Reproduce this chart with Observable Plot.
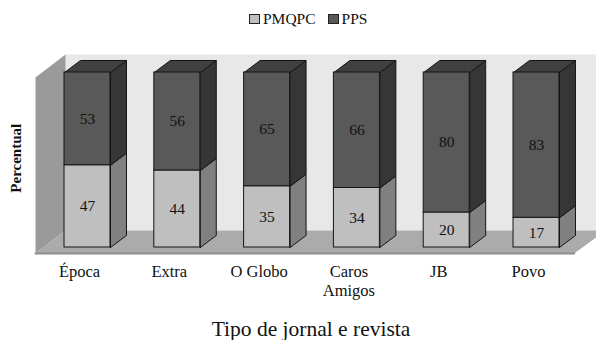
<!DOCTYPE html>
<html lang="pt">
<head>
<meta charset="utf-8">
<script src="https://cdn.jsdelivr.net/npm/d3@7"></script>
<script src="https://cdn.jsdelivr.net/npm/@observablehq/plot@0.6"></script>
<style>
  html, body { margin: 0; padding: 0; background: #fff; }
  body { width: 596px; height: 340px; font-family: "Liberation Serif", serif; color: #111; overflow: hidden; }
  #legend { height: 40px; box-sizing: border-box; padding: 10px 0 0 249px; display: flex; align-items: flex-start; font-size: 15.5px; line-height: 17px; }
  #legend span.item { display: flex; align-items: center; }
  #legend i { display: inline-block; width: 9px; height: 8px; border: 1px solid #222; margin-right: 3px; }
  #title { height: 30px; width: 596px; padding: 9px 0 0 26px; box-sizing: border-box; text-align: center; font-size: 21.5px; line-height: 20px; }
  svg { display: block; }
</style>
</head>
<body>
<div id="legend"></div>
<div id="chart"></div>
<div id="title"></div>
<script>
// Share of each publication by group, in percent
const categories = ["Época", "Extra", "O Globo", "Caros\nAmigos", "JB", "Povo"];
const pmqpc = [47, 44, 35, 34, 20, 17];
const pps = [53, 56, 65, 66, 80, 83];

const colors = {
  lowerFront: "#bfbfbf", lowerSide: "#808080",
  upperFront: "#595959", upperSide: "#363636", top: "#404040",
  wall: "#e8e8e8", sideWall: "#9a9a9a", floor: "#ababab", floorEdge: "#8e8e8e",
  edge: "#151515"
};

// Oblique projection: bars are 0.51 categories wide, and receding by one
// depth unit moves a point right by dx and up by dy
const halfBar = 0.256;
const dx = 0.178;
const dy = 6.86;

const rows = categories.map((name, i) => ({i, name, lo: pmqpc[i], hi: pps[i]}));

// Closed outline for one bar's side face between two stacked values
const side = (r, from, to, id) => [
  {id, x: r.i + halfBar, y: from},
  {id, x: r.i + halfBar + dx, y: from + dy},
  {id, x: r.i + halfBar + dx, y: to + dy},
  {id, x: r.i + halfBar, y: to},
  {id, x: r.i + halfBar, y: from}
];
const topFace = (r) => [
  {id: r.i, x: r.i - halfBar, y: 100},
  {id: r.i, x: r.i + halfBar, y: 100},
  {id: r.i, x: r.i + halfBar + dx, y: 100 + dy},
  {id: r.i, x: r.i - halfBar + dx, y: 100 + dy},
  {id: r.i, x: r.i - halfBar, y: 100}
];

// Chart box: back wall, left wall and floor
const box = {left: -0.579, back: -0.245, frontRight: 5.42, right: 5.67, floorFront: -3.43, floorBack: 9.71, top: 110.3};
const boxDepthY = box.floorBack - box.floorFront;
const backWall = [
  {x: box.back, y: box.floorBack}, {x: box.right, y: box.floorBack},
  {x: box.right, y: box.top}, {x: box.back, y: box.top}
];
const sideWall = [
  {x: box.left, y: box.floorFront}, {x: box.back, y: box.floorBack},
  {x: box.back, y: box.top}, {x: box.left, y: box.top - boxDepthY},
  {x: box.left, y: box.floorFront}
];
const floor = [
  {x: box.left, y: box.floorFront}, {x: box.back, y: box.floorBack},
  {x: box.right, y: box.floorBack}, {x: box.right, y: box.floorBack - 3.7},
  {x: box.frontRight, y: box.floorFront}, {x: box.left, y: box.floorFront}
];
const floorEdge = [
  {x: box.left, y: box.floorFront}, {x: box.frontRight, y: box.floorFront}
];

const svg = Plot.plot({
  width: 596,
  height: 270,
  marginLeft: 87,
  marginRight: 60,
  marginTop: 32,
  marginBottom: 63,
  style: {fontFamily: "Liberation Serif", background: "transparent", color: "#111"},
  x: {type: "linear", domain: [0, 5], axis: null},
  y: {domain: [0, 100], axis: null},
  marks: [
    Plot.line(backWall.concat(backWall[0]), {x: "x", y: "y", fill: colors.wall, stroke: "none"}),
    Plot.line(sideWall, {x: "x", y: "y", fill: colors.sideWall, stroke: "none"}),
    Plot.line(floor, {x: "x", y: "y", fill: colors.floor, stroke: "none"}),
    Plot.line(floorEdge, {x: "x", y: "y", stroke: colors.floorEdge, strokeWidth: 2}),

    Plot.line(rows.flatMap((r) => side(r, 0, r.lo, r.i)), {x: "x", y: "y", z: "id", fill: colors.lowerSide, stroke: colors.edge, strokeWidth: 1}),
    Plot.line(rows.flatMap((r) => side(r, r.lo, 100, r.i)), {x: "x", y: "y", z: "id", fill: colors.upperSide, stroke: colors.edge, strokeWidth: 1}),
    Plot.line(rows.flatMap(topFace), {x: "x", y: "y", z: "id", fill: colors.top, stroke: colors.edge, strokeWidth: 1}),
    Plot.rect(rows, {x1: (d) => d.i - halfBar, x2: (d) => d.i + halfBar, y1: 0, y2: "lo", fill: colors.lowerFront, stroke: colors.edge, strokeWidth: 1}),
    Plot.rect(rows, {x1: (d) => d.i - halfBar, x2: (d) => d.i + halfBar, y1: "lo", y2: 100, fill: colors.upperFront, stroke: colors.edge, strokeWidth: 1}),

    Plot.text(rows, {x: "i", y: (d) => d.lo / 2, text: (d) => String(d.lo), fontSize: 15.5, fill: "#111"}),
    Plot.text(rows, {x: "i", y: (d) => d.lo + (100 - d.lo) / 2, text: (d) => String(d.hi), fontSize: 15.5, fill: "#111"}),

    Plot.axisX({
      anchor: "bottom",
      ticks: d3.range(categories.length),
      tickFormat: (i) => categories[i],
      tickSize: 0,
      tickPadding: 17,
      dx: -8,
      fontSize: 16.5,
      lineHeight: 1.1,
      label: null
    }),
    Plot.text(["Percentual"], {frameAnchor: "left", textAnchor: "middle", dx: -71, y: [51], rotate: -90, fontWeight: "bold", fontSize: 15})
  ]
});
document.getElementById("chart").append(svg);

// Legend above the chart, axis title below it
const legend = d3.select("#legend");
[["PMQPC", colors.lowerFront, 12], ["PPS", colors.upperFront, 0]].forEach(([label, color, gap]) => {
  const item = legend.append("span").attr("class", "item").style("margin-right", gap + "px");
  item.append("i").style("background", color);
  item.append("span").text(label);
});
document.getElementById("title").textContent = "Tipo de jornal e revista";
</script>
</body>
</html>
